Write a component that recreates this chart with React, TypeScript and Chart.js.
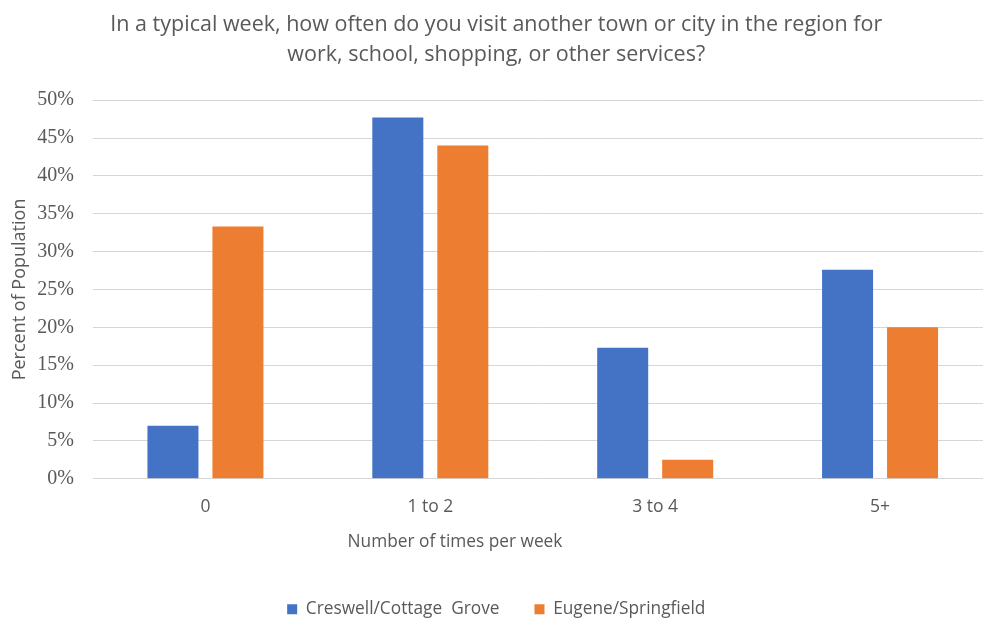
import React, { useEffect, useRef } from "react";
import { Chart, registerables } from "chart.js";

Chart.register(...registerables);

const titleLines = [
  "In a typical week, how often do you visit another town or city in the region for",
  "work, school, shopping, or other services?",
];
const categories = ["0", "1 to 2", "3 to 4", "5+"];
const creswellLabel = "Creswell/Cottage  Grove";
const eugeneLabel = "Eugene/Springfield";
const creswellValues = [7.0, 47.7, 17.3, 27.6];
const eugeneValues = [33.3, 44.0, 2.5, 20.0];
const yTickMax = 50;
const yTickStep = 5;
const xAxisTitle = "Number of times per week";
const yAxisTitle = "Percent of Population";

const TEXT = "#595959";
const BLUE = "#4472C4";
const ORANGE = "#ED7D31";
const SANS = "'Open Sans', 'Noto Sans', sans-serif";
const SERIF = "'Liberation Serif', 'DejaVu Serif', serif";

// The horizontal axis caption sits left of the plot centre, so it is painted
// by hand below the tick labels instead of by the scale's own title.
const xCaptionPlugin = {
  id: "xCaption",
  afterDraw(chart: any) {
    const { ctx } = chart;
    const xScale = chart.scales.x;
    ctx.save();
    ctx.fillStyle = TEXT;
    ctx.font = `17.3px ${SANS}`;
    ctx.textAlign = "center";
    ctx.textBaseline = "middle";
    ctx.fillText(xAxisTitle, 455, xScale.top + 63);
    ctx.restore();
  },
};

export default function App() {
  const canvasRef = useRef<HTMLCanvasElement | null>(null);

  useEffect(() => {
    if (!canvasRef.current) return;
    const chart = new Chart(canvasRef.current, {
      type: "bar",
      data: {
        labels: categories,
        datasets: [
          {
            label: creswellLabel,
            data: creswellValues,
            backgroundColor: BLUE,
            categoryPercentage: 0.578,
            barPercentage: 0.785,
          },
          {
            label: eugeneLabel,
            data: eugeneValues,
            backgroundColor: ORANGE,
            categoryPercentage: 0.578,
            barPercentage: 0.785,
          },
        ],
      },
      plugins: [xCaptionPlugin],
      options: {
        responsive: false,
        animation: false,
        devicePixelRatio: 1,
        layout: { padding: { left: 0, right: 7.5, top: 0, bottom: -10 } },
        plugins: {
          tooltip: { enabled: false },
          title: {
            display: true,
            text: titleLines,
            color: TEXT,
            font: { family: SANS, size: 21.5, weight: "normal", lineHeight: 1.4 },
            padding: { top: 10, bottom: 30 },
          },
          legend: {
            position: "bottom",
            labels: {
              color: TEXT,
              font: { family: SANS, size: 17.3 },
              boxWidth: 10,
              boxHeight: 10,
              padding: 35,
            },
          },
        },
        scales: {
          x: {
            grid: { display: false, drawTicks: false },
            border: { display: false },
            ticks: {
              color: TEXT,
              font: { family: SANS, size: 17.5 },
              padding: 18,
            },
            afterFit: (scale: any) => {
              scale.height = 87;
            },
          },
          y: {
            min: 0,
            max: yTickMax,
            grid: { color: "#d6d6d6", lineWidth: 1, drawTicks: false },
            border: { display: false },
            ticks: {
              stepSize: yTickStep,
              color: TEXT,
              font: { family: SERIF, size: 20 },
              padding: 19,
              callback: (v: any) => `${v}%`,
            },
            title: {
              display: true,
              text: yAxisTitle,
              color: TEXT,
              font: { family: SANS, size: 18 },
              padding: { top: 9.5, bottom: 0 },
            },
            afterFit: (scale: any) => {
              scale.width = 93;
            },
          },
        },
      },
    });
    return () => chart.destroy();
  }, []);

  return (
    <div
      style={{
        position: "fixed",
        left: 0,
        top: 0,
        width: 983,
        height: 618,
        overflow: "hidden",
        background: "#ffffff",
      }}
    >
      <canvas ref={canvasRef} width={1000} height={618} style={{ display: "block" }} />
    </div>
  );
}
